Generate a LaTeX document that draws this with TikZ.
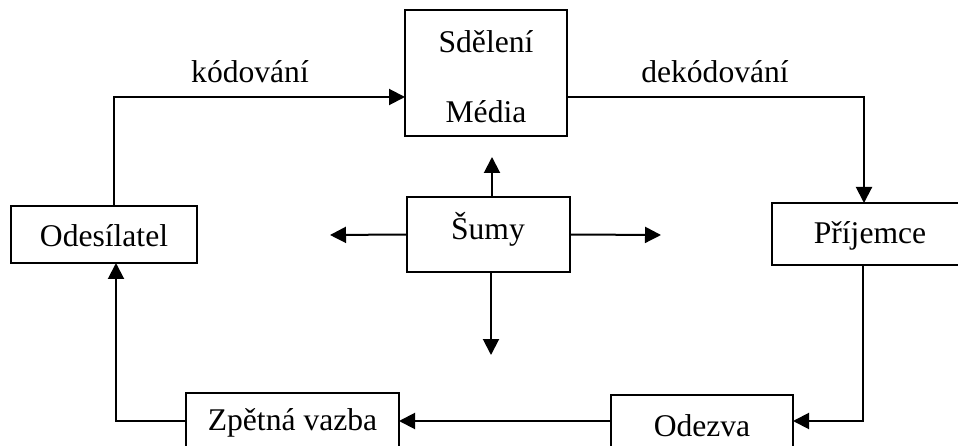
\documentclass[tikz,border=0pt]{standalone}
\usepackage{fontspec}
\setmainfont{Liberation Serif}
\usetikzlibrary{arrows.meta}
\begin{document}
\begin{tikzpicture}[x=1pt,y=-1pt,
  box/.style={draw,line width=2pt,inner sep=0pt,outer sep=0pt},
  txt/.style={inner sep=0pt,font=\fontsize{31.6}{36}\selectfont},
  arr/.style={line width=2pt,-{Triangle[length=16pt,width=16pt]}}]
\useasboundingbox (0,0) rectangle (958,446);
% boxes
\node[box,minimum width=162pt,minimum height=126pt] (msg) at (486,73) {};
\node[txt] (msgA) at (486,42) {Sdělení};
\node[txt] (msgB) at (486,112) {Média};
\node[box,minimum width=186pt,minimum height=57pt] (send) at (104,234.5) {};
\node[txt] (sendT) at (104,236) {Odesílatel};
\node[box,minimum width=163pt,minimum height=75pt] (noise) at (488.5,234.5) {};
\node[txt] (noiseT) at (488,229) {Šumy};
\node[box,minimum width=194pt,minimum height=62pt] (recv) at (869,234) {};
\node[txt] (recvT) at (870,236) {Příjemce};
\node[box,minimum width=213pt,minimum height=67pt] (fb) at (292.5,426.5) {};
\node[txt] (fbT) at (292.5,423) {Zpětná vazba};
\node[box,minimum width=182pt,minimum height=65pt] (resp) at (702,427.5) {};
\node[txt] (respT) at (702,426) {Odezva};
% labels
\node[txt] (enc) at (250,72) {kódování};
\node[txt] (dec) at (715,72) {dekódování};
% free ends of noise arrows
\coordinate (nU) at (492,157);
\coordinate (nL) at (330,235);
\coordinate (nR) at (661,235);
\coordinate (nD) at (491,355);
% connectors
\draw[arr] ([xshift=10pt]send.north) |- ([yshift=-24pt]msg.west);
\draw[arr] ([yshift=-24pt]msg.east) -| ([xshift=-5pt]recv.north);
\draw[arr] ([xshift=-6pt]recv.south) |- ([yshift=6.5pt]resp.east);
\draw[arr] ([yshift=6.5pt]resp.west) -- ([yshift=5.5pt]fb.east);
\draw[arr] ([yshift=5.5pt]fb.west) -| ([xshift=12pt]send.south);
\draw[arr] (noise.north -| nU) -- (nU);
\draw[arr] (noise.west) -- (nL);
\draw[arr] (noise.east) -- (nR);
\draw[arr] (noise.south -| nD) -- (nD);
\end{tikzpicture}
\end{document}
